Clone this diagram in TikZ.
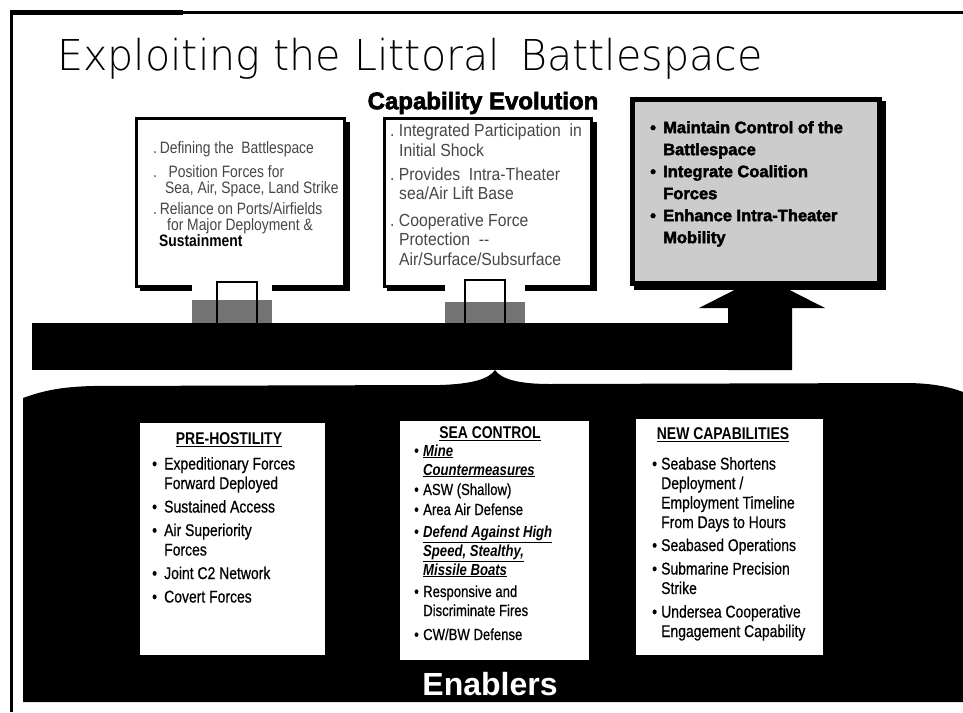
\documentclass[tikz,border=0pt]{standalone}
\usepackage{fontspec}
\setmainfont{Liberation Sans}
\IfFontExistsTF{DejaVu Sans ExtraLight}
  {\newfontfamily\titlefont[FakeStretch=0.97]{DejaVu Sans ExtraLight}}
  {\newfontfamily\titlefont[FakeStretch=0.97]{DejaVu Sans}}
\newfontfamily\boxonefont[FakeStretch=0.84]{Liberation Sans}
\newfontfamily\boxtwofont[FakeStretch=0.9]{Liberation Sans}
\newfontfamily\heavyfont[BoldFeatures={FakeBold=2.5}]{Liberation Sans}
\newfontfamily\narrowfont[FakeStretch=0.82, UprightFeatures={FakeBold=0.6}]{Liberation Sans}
\newcommand{\bitem}[1]{\makebox[#1][l]{\textbullet}}
\newcommand{\bcont}[1]{\hspace*{#1}}
\tikzset{
  txt/.style={inner sep=0pt, anchor=north west, align=left},
  upbox/.style={line width=3pt, fill=white},
  stemline/.style={line width=1.5pt},
  stemfill/.style={fill=black!55},
  lowbox/.style={fill=white},
  headtxt/.style={inner sep=0pt, font=\narrowfont\bfseries\fontsize{17}{20}\selectfont},
}
\begin{document}
\begin{tikzpicture}[x=1pt,y=-1pt]
\useasboundingbox (0,0) rectangle (963,712);
\fill[white] (0,0) rectangle (963,712);
% frame
\draw[line width=3.5pt] (11.25,712) -- (11.25,12.5) -- (963,12.5);
\fill (9.5,10) rectangle (183,15);
% title
\node[anchor=base west, inner sep=0pt, font=\titlefont\fontsize{42.5}{44}\selectfont] (title) at (57,70) {Exploiting the Littoral\ \,Battlespace};
\node[inner sep=0pt, font=\heavyfont\bfseries\fontsize{24}{24}\selectfont] (capevo) at (483,103) {Capability Evolution};
% arrow and bar
\fill (728,370) -- (728,308) -- (699,308) -- (762,276) -- (825,308) -- (792,308) -- (792,370) -- cycle;
\fill (32,323) rectangle (792,370);
% brace-shaped enablers region
\fill (23,398) .. controls (45,390) and (62,387) .. (92,386) -- (440,385)
  .. controls (472,384) and (489,379) .. (495,370)
  .. controls (501,379) and (518,384) .. (550,384) -- (905,383)
  .. controls (932,383) and (950,387) .. (963,392) -- (963,702) -- (23,702) -- cycle;
% upper boxes
\fill (140,122) rectangle (350,291);
\draw[upbox] (136.5,118.5) rectangle (344.5,286.5);
\fill (387,122) rectangle (597,291);
\draw[upbox] (384.5,118.5) rectangle (591.5,286.5);
\fill (634,101) rectangle (886,290);
\draw[line width=5pt, fill=black!20] (632.5,99.5) rectangle (879.5,283.5);
% stems
\fill[white] (192,281) rectangle (272,300);
\fill[stemfill] (192,300) rectangle (272,323);
\draw[stemline] (217,323) -- (217,282) -- (257,282) -- (257,323);
\fill[white] (445,280) rectangle (525,302);
\fill[stemfill] (445,302) rectangle (525,323);
\draw[stemline] (465,323) -- (465,280) -- (505,280) -- (505,323);
% upper texts
\node[txt, text=black!72, font=\boxonefont\fontsize{16.5}{16}\selectfont] (t1) at (153,141) {%
.\,Defining the\ \ Battlespace\\[8pt]
.\ \ \ Position Forces for\\
\hspace*{12pt}Sea, Air, Space, Land Strike\\[5pt]
.\,Reliance on\ Ports/Airfields\\
\hspace*{14pt}for Major Deployment \&\\
\hspace*{6pt}\textcolor{black}{\bfseries Sustainment}};
\node[txt, text=black!72, font=\boxtwofont\fontsize{17.5}{19.5}\selectfont] (t2) at (390,123.7) {%
.\ Integrated Participation\ \ in\\
\bcont{9pt}Initial Shock\\[4.5pt]
.\ Provides\ \ Intra-Theater\\
\bcont{9pt}sea/Air Lift Base\\[7pt]
.\ Cooperative Force\\
\bcont{9pt}Protection\ \ --\\
\bcont{9pt}Air/Surface/Subsurface};
\node[txt, font=\heavyfont\bfseries\fontsize{16.5}{22}\selectfont] (t3) at (650,121) {%
\bitem{13pt}Maintain Control of the\\
\bcont{13pt}Battlespace\\
\bitem{13pt}Integrate Coalition\\
\bcont{13pt}Forces\\
\bitem{13pt}Enhance Intra-Theater\\
\bcont{13pt}Mobility};
% lower boxes
\fill[lowbox] (140,423) rectangle (325,655);
\fill[lowbox] (400,421) rectangle (589,660);
\fill[lowbox] (636,419) rectangle (823,655);
\node[headtxt] (prehead) at (229,440) {\underline{PRE-HOSTILITY}};
\node[txt, font=\narrowfont\fontsize{17}{19.5}\selectfont] (preitems) at (152,457) {%
\bitem{12pt}Expeditionary Forces\\
\bcont{12pt}Forward Deployed\\[4pt]
\bitem{12pt}Sustained Access\\[4pt]
\bitem{12pt}Air Superiority\\
\bcont{12pt}Forces\\[4pt]
\bitem{12pt}Joint C2 Network\\[4pt]
\bitem{12pt}Covert Forces};
\node[headtxt] (seahead) at (490,434) {\underline{SEA CONTROL}};
\node[txt, font=\narrowfont\fontsize{16}{19}\selectfont] (seaitems) at (414,444.2) {%
\bitem{9pt}\underline{\textbf{\textit{Mine}}}\\
\bcont{9pt}\underline{\textbf{\textit{Countermeasures}}}\\[1pt]
\bitem{9pt}ASW (Shallow)\\[1pt]
\bitem{9pt}Area Air Defense\\[3pt]
\bitem{9pt}\underline{\textbf{\textit{Defend Against High}}}\\
\bcont{9pt}\underline{\textbf{\textit{Speed, Stealthy,}}}\\
\bcont{9pt}\underline{\textbf{\textit{Missile Boats}}}\\[3pt]
\bitem{9pt}Responsive and\\
\bcont{9pt}Discriminate Fires\\[5pt]
\bitem{9pt}CW/BW Defense};
\node[headtxt] (newhead) at (723,435) {\underline{NEW CAPABILITIES}};
\node[txt, font=\narrowfont\fontsize{17}{19.5}\selectfont] (newitems) at (652,457) {%
\bitem{9pt}Seabase Shortens\\
\bcont{9pt}Deployment /\\
\bcont{9pt}Employment Timeline\\
\bcont{9pt}From Days to Hours\\[3.5pt]
\bitem{9pt}Seabased Operations\\[4pt]
\bitem{9pt}Submarine Precision\\
\bcont{9pt}Strike\\[4pt]
\bitem{9pt}Undersea Cooperative\\
\bcont{9pt}Engagement Capability};
\node[inner sep=0pt, text=white, font=\bfseries\fontsize{32}{32}\selectfont] (enablers) at (490,684) {Enablers};
\end{tikzpicture}
\end{document}
